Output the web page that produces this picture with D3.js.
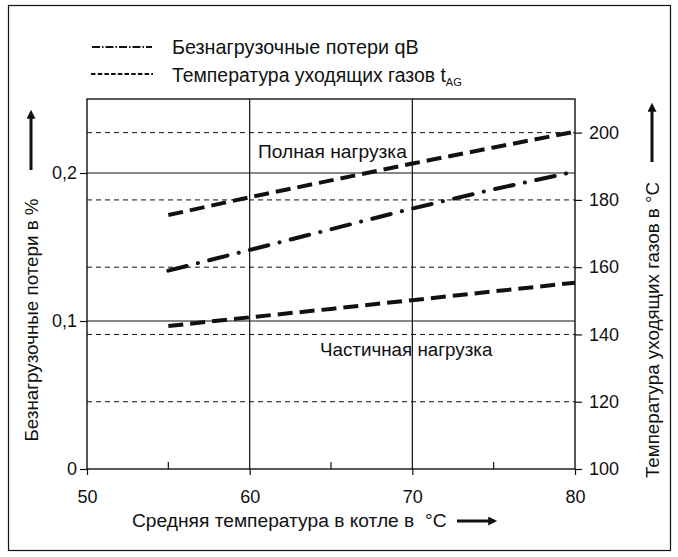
<!DOCTYPE html>
<html><head><meta charset="utf-8">
<script src="https://cdn.jsdelivr.net/npm/d3@7"></script>
<style>
body{margin:0;background:#fff}
text{font-family:"Liberation Sans",Arial,Helvetica,sans-serif;fill:#111}
</style>
</head><body><svg id="c" width="678" height="557"></svg>
<script>
// ---- data ----
const xTicks = [50, 60, 70, 80];
const xMinorTicks = [55, 65, 75];
const leftTicks = [0, 0.1, 0.2];
const rightTicks = [100, 120, 140, 160, 180, 200];
const boilerTemp = [55, 60, 65, 70, 75, 80];
const qB = [0.134, 0.148, 0.162, 0.176, 0.189, 0.201];
const tFullLoad = [175.5, 180.8, 185.8, 190.8, 195.6, 200.3];
const tPartLoad = [142.5, 145.1, 147.6, 150.2, 152.8, 155.4];
const legendLabels = ["Безнагрузочные потери qB", "Температура уходящих газов t"];
const annotations = ["Полная нагрузка", "Частичная нагрузка"];
const xTitle = "Средняя температура в котле в  °C";
const yLeftTitle = "Безнагрузочные потери в %";
const yRightTitle = "Температура уходящих газов в °C";

// ---- layout ----
const L = 87, R = 575, T = 99, B = 469;
const svg = d3.select("#c");
const x = d3.scaleLinear().domain([50, 80]).range([L, R]);
const yL = d3.scaleLinear().domain([0, 0.25]).range([B, T]);
const yR = d3.scaleLinear().domain([100, 210]).range([B, T]);
const ink = "#111";
const fmtL = d => d === 0 ? "0" : d3.format(".1f")(d).replace(".", ",");

svg.append("defs").append("marker").attr("id", "ah")
  .attr("viewBox", "0 0 10 10").attr("refX", 2).attr("refY", 5)
  .attr("markerWidth", 4.2).attr("markerHeight", 3.0).attr("markerUnits", "strokeWidth")
  .attr("orient", "auto")
  .append("path").attr("d", "M0,0 L10,5 L0,10 Z").attr("fill", ink);

// outer border
svg.append("rect").attr("x", 8.5).attr("y", 5.5).attr("width", 662).attr("height", 545)
  .attr("fill", "none").attr("stroke", ink).attr("stroke-width", 1.2);

// dashed temperature gridlines
svg.append("g").selectAll("line").data(rightTicks.slice(1)).join("line")
  .attr("x1", L).attr("x2", R).attr("y1", d => yR(d)).attr("y2", d => yR(d))
  .attr("stroke", ink).attr("stroke-width", 1).attr("stroke-dasharray", "5,4");
// solid loss gridlines
svg.append("g").selectAll("line").data(leftTicks.slice(1)).join("line")
  .attr("x1", L).attr("x2", R).attr("y1", d => yL(d)).attr("y2", d => yL(d))
  .attr("stroke", ink).attr("stroke-width", 1.2);
// vertical gridlines
svg.append("g").selectAll("line").data(xTicks.slice(1, -1)).join("line")
  .attr("x1", d => x(d)).attr("x2", d => x(d)).attr("y1", T).attr("y2", B)
  .attr("stroke", ink).attr("stroke-width", 1.2);
// minor ticks inward
svg.append("g").selectAll("line").data(xMinorTicks).join("line")
  .attr("x1", d => x(d)).attr("x2", d => x(d)).attr("y1", B).attr("y2", B - 7)
  .attr("stroke", ink).attr("stroke-width", 1.2);
// frame
svg.append("rect").attr("x", L).attr("y", T).attr("width", R - L).attr("height", B - T)
  .attr("fill", "none").attr("stroke", ink).attr("stroke-width", 1.4);

function styleAxis(g) {
  g.select(".domain").remove();
  g.selectAll(".tick line").attr("stroke", ink).attr("stroke-width", 1.2);
  g.selectAll(".tick text").attr("font-size", 18).attr("fill", ink)
    .attr("font-family", "'Liberation Sans',Arial,sans-serif");
}
svg.append("g").attr("transform", `translate(0,${B})`)
  .call(d3.axisBottom(x).tickValues(xTicks).tickSize(6).tickPadding(15)).call(styleAxis);
svg.append("g").attr("transform", `translate(${L},0)`)
  .call(d3.axisLeft(yL).tickValues(leftTicks).tickFormat(fmtL).tickSize(7).tickPadding(3)).call(styleAxis);
svg.append("g").attr("transform", `translate(${R},0)`)
  .call(d3.axisRight(yR).tickValues(rightTicks).tickSize(7).tickPadding(7)).call(styleAxis);

// series
const lineL = d3.line().x((d, i) => x(boilerTemp[i])).y(d => yL(d));
const lineR = d3.line().x((d, i) => x(boilerTemp[i])).y(d => yR(d));
svg.append("path").datum(tFullLoad).attr("d", lineR).attr("fill", "none")
  .attr("stroke", ink).attr("stroke-width", 4).attr("stroke-dasharray", "15,7");
svg.append("path").datum(tPartLoad).attr("d", lineR).attr("fill", "none")
  .attr("stroke", ink).attr("stroke-width", 4).attr("stroke-dasharray", "15,7");
svg.append("path").datum(qB).attr("d", lineL).attr("fill", "none")
  .attr("stroke", ink).attr("stroke-width", 4).attr("stroke-linecap", "round")
  .attr("stroke-dasharray", "19,11.5,0.1,11.5");

// annotations
svg.append("text").attr("x", 258).attr("y", 158).attr("font-size", 19.2).text(annotations[0]);
svg.append("text").attr("x", 320).attr("y", 356).attr("font-size", 18.8).text(annotations[1]);

// legend
svg.append("line").attr("x1", 92).attr("x2", 152).attr("y1", 47).attr("y2", 47)
  .attr("stroke", ink).attr("stroke-width", 2).attr("stroke-dasharray", "8,2,1.5,2");
svg.append("line").attr("x1", 91).attr("x2", 153).attr("y1", 74).attr("y2", 74)
  .attr("stroke", ink).attr("stroke-width", 2).attr("stroke-dasharray", "4.5,2.2");
svg.append("text").attr("x", 172).attr("y", 54).attr("font-size", 19.8).text(legendLabels[0]);
const lt = svg.append("text").attr("x", 172).attr("y", 82).attr("font-size", 19.4).text(legendLabels[1]);
lt.append("tspan").attr("font-size", 11).attr("dy", 4).text("AG");

// axis titles
svg.append("text").attr("x", 132).attr("y", 527).attr("font-size", 19.2)
  .attr("xml:space", "preserve").style("white-space", "pre").text(xTitle);
svg.append("line").attr("x1", 457).attr("x2", 490).attr("y1", 521).attr("y2", 521)
  .attr("stroke", ink).attr("stroke-width", 3).attr("marker-end", "url(#ah)");

svg.append("text").attr("transform", "translate(38,320) rotate(-90)")
  .attr("text-anchor", "middle").attr("font-size", 18.8).text(yLeftTitle);
svg.append("line").attr("x1", 31).attr("x2", 31).attr("y1", 170).attr("y2", 117)
  .attr("stroke", ink).attr("stroke-width", 3).attr("marker-end", "url(#ah)");

svg.append("text").attr("transform", "translate(659,330) rotate(-90)")
  .attr("text-anchor", "middle").attr("font-size", 18.8).text(yRightTitle);
svg.append("line").attr("x1", 652).attr("x2", 652).attr("y1", 162).attr("y2", 110)
  .attr("stroke", ink).attr("stroke-width", 3).attr("marker-end", "url(#ah)");
</script></body></html>
